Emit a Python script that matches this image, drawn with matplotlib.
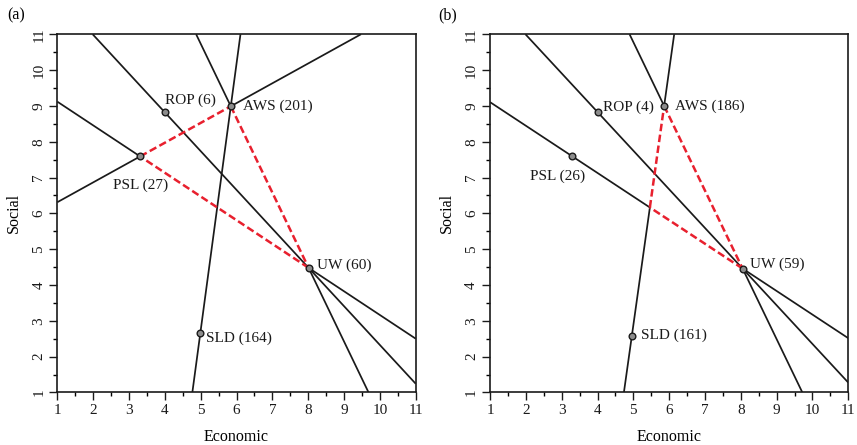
import numpy as np
import matplotlib.pyplot as plt
from matplotlib.ticker import MultipleLocator

plt.rcParams['font.family'] = ['Liberation Serif', 'DejaVu Serif']

parties = ["ROP", "AWS", "PSL", "UW", "SLD"]

# panel (a)
econ_a = [4.0, 5.84, 3.31, 8.01, 4.99]
social_a = [8.82, 8.99, 7.59, 4.48, 2.66]
seats_a = [6, 201, 27, 60, 164]
lines_a = [("PSL", "AWS"), ("PSL", "UW"), ("ROP", "UW"), ("AWS", "UW"), ("SLD", "AWS")]
coalition_a = [("PSL", "AWS"), ("AWS", "UW"), ("UW", "PSL")]

# panel (b)
econ_b = [4.0, 5.86, 3.30, 8.05, 4.96]
social_b = [8.83, 9.0, 7.59, 4.46, 2.59]
seats_b = [4, 186, 26, 59, 161]
lines_b = [("PSL", "UW"), ("ROP", "UW"), ("AWS", "UW"), ("SLD", "AWS")]
coalition_b = [("X", "AWS"), ("AWS", "UW"), ("UW", "X")]  # X = PSL-UW crossing SLD-AWS

# label offsets in points and alignment
offs_a = [(0, 9), (8.5, 0), (0, -21), (6, 2), (4, -4)]
ha_a = ["left", "left", "center", "left", "left"]
offs_b = [(4, 3.5), (8, 0), (-11, -14), (5.3, 3.2), (6.3, 0)]
ha_b = ["left", "left", "center", "left", "left"]

RED = '#e8202e'


def clip_range(p, d, lo=1, hi=11):
    t0, t1 = -np.inf, np.inf
    for k in range(2):
        if d[k] != 0:
            a, b = (lo - p[k]) / d[k], (hi - p[k]) / d[k]
            t0, t1 = max(t0, min(a, b)), min(t1, max(a, b))
    return t0, t1


def cross(u, v):
    return u[0] * v[1] - u[1] * v[0]


def intersect(p1, p2, q1, q2):
    d1, d2 = p2 - p1, q2 - q1
    t = cross(q1 - p1, d2) / cross(d1, d2)
    return p1 + t * d1


def draw_panel(ax, econ, social, seats, lines, coalition, offs, has):
    pos = {n: np.array([x, y]) for n, x, y in zip(parties, econ, social)}
    if any("X" in e for e in coalition):
        pos["X"] = intersect(pos["PSL"], pos["UW"], pos["SLD"], pos["AWS"])

    # black lines, leaving gaps where the coalition edges run
    for a, b in lines:
        p, d = pos[a], pos[b] - pos[a]
        t0, t1 = clip_range(p, d)
        gaps = []
        for e1, e2 in coalition:
            if abs(cross(d, pos[e1] - p)) < 1e-6 and abs(cross(d, pos[e2] - p)) < 1e-6:
                ta = np.dot(pos[e1] - p, d) / np.dot(d, d)
                tb = np.dot(pos[e2] - p, d) / np.dot(d, d)
                gaps.append((min(ta, tb), max(ta, tb)))
        gaps.sort()
        start = t0
        segs = []
        for ga, gb in gaps:
            segs.append((start, ga))
            start = gb
        segs.append((start, t1))
        for s0, s1 in segs:
            if s1 > s0:
                q0, q1 = p + s0 * d, p + s1 * d
                ax.plot([q0[0], q1[0]], [q0[1], q1[1]], color='#1a1a1a', lw=1.25,
                        solid_capstyle='butt', zorder=2)

    for e1, e2 in coalition:
        ax.plot([pos[e1][0], pos[e2][0]], [pos[e1][1], pos[e2][1]], color=RED,
                lw=1.8, linestyle=(0, (3.0, 1.4)), zorder=3)

    ax.plot(econ, social, 'o', ms=4.8, mfc='#8c8c8c', mec='#1a1a1a', mew=1.0, zorder=4)
    for n, x, y, s, o, h in zip(parties, econ, social, seats, offs, has):
        ax.annotate("%s (%d)" % (n, s), (x, y), xytext=o, textcoords='offset points',
                    ha=h, va='center', fontsize=11, color='#1a1a1a')

    ax.set_xlim(1, 11)
    ax.set_ylim(1, 11)
    ax.set_xticks(range(1, 12))
    ax.set_yticks(range(1, 12))
    ax.xaxis.set_minor_locator(MultipleLocator(0.5))
    ax.yaxis.set_minor_locator(MultipleLocator(0.5))
    ax.tick_params(which='major', direction='out', length=5.6, width=1.0, labelsize=11,
                   colors='#1a1a1a', pad=3)
    ax.tick_params(which='minor', direction='out', length=2.6, width=1.0)
    ax.tick_params(axis='y', labelrotation=90)
    for lab in ax.get_yticklabels():
        lab.set_va('center')
    for sp in ax.spines.values():
        sp.set_linewidth(1.2)
        sp.set_color('#1a1a1a')
    ax.set_xlabel("Economic", fontsize=11.5)
    ax.set_ylabel("Social", fontsize=11.5)
    ax.xaxis.set_label_coords(0.5, -0.102)
    ax.yaxis.set_label_coords(-0.098, 0.5)


fig = plt.figure(figsize=(8.57, 4.45), dpi=100)
ax1 = fig.add_axes([0.0669, 0.118, 0.4182, 0.805])
ax2 = fig.add_axes([0.5718, 0.118, 0.4180, 0.805])

draw_panel(ax1, econ_a, social_a, seats_a, lines_a, coalition_a, offs_a, ha_a)
draw_panel(ax2, econ_b, social_b, seats_b, lines_b, coalition_b, offs_b, ha_b)

fig.text(0.008, 1 - 15 / 445, "(a)", fontsize=11.5, va='center')
fig.text(0.511, 1 - 15 / 445, "(b)", fontsize=11.5, va='center')

fig.savefig("out.png", dpi=100)
